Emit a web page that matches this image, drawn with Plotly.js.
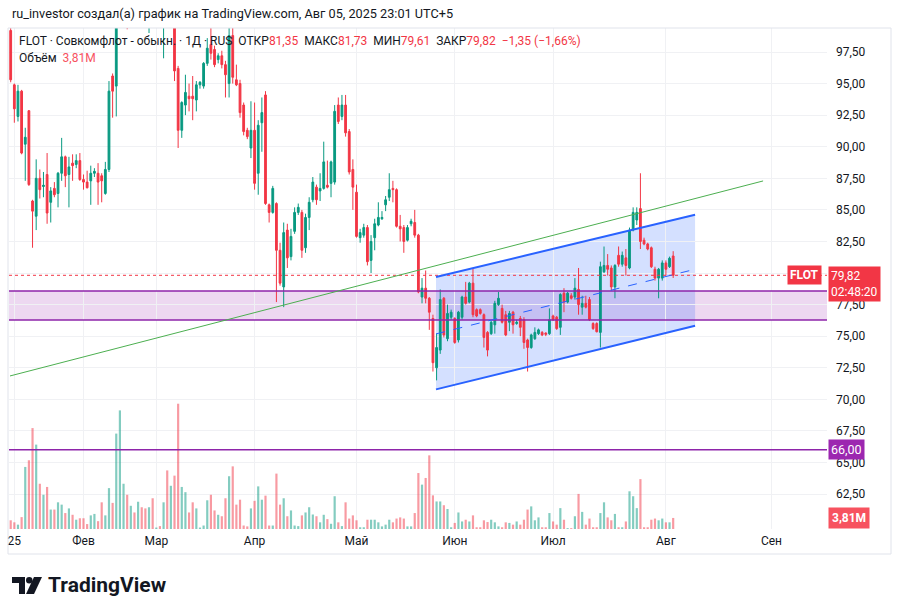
<!DOCTYPE html>
<html><head><meta charset="utf-8">
<script src="https://cdn.plot.ly/plotly-3.0.1.min.js"></script>
<style>html,body{margin:0;padding:0;background:#fff}#chart{width:902px;height:616px}</style>
</head><body><div id="chart"></div>
<script>
// ---- Data (daily bars, FLOT, Jan–Aug 2025) ----
const opens = [99.2,94.9,92.4,94.4,90.2,92.85,85.7,84.5,87.5,86.85,87.8,85.6,86.7,86.3,87.9,89.2,87.8,88.7,88.6,88.9,
87.4,87.2,87.3,87.9,87.9,87.7,86.3,88.2,95.6,94.8,101.0,103.8,104.5,100.0,102.5,101.5,103.0,102.0,100.2,101.8,
100.8,102.2,100.2,101.2,100.1,100.6,96.2,91.3,93.3,94.0,94.0,93.7,94.9,94.8,96.6,98.1,97.7,96.9,97.2,96.5,
95.0,98.8,95.3,95.0,93.3,91.3,89.9,91.3,87.9,91.9,94.1,85.4,84.8,85.5,81.8,78.9,83.4,81.3,83.3,84.8,
84.8,82.0,84.4,85.8,86.8,86.5,86.7,86.95,87.1,87.2,93.3,92.4,93.3,91.2,88.2,86.4,82.8,83.0,83.6,81.0,
82.8,83.8,84.3,85.4,86.0,86.7,86.6,83.7,83.6,82.6,83.9,84.0,83.0,78.1,78.8,78.0,76.4,72.5,73.9,78.0,
74.8,76.5,76.4,74.7,76.5,78.1,77.7,79.2,77.1,77.1,76.7,75.3,75.2,75.9,77.5,77.2,76.7,76.1,76.9,76.0,
76.4,76.3,74.7,74.1,74.8,75.2,75.3,75.25,75.2,76.6,76.5,75.7,78.4,77.7,78.2,78.1,78.7,77.3,77.6,77.9,
76.0,76.0,75.3,80.1,80.6,80.4,78.9,81.4,80.7,81.2,80.4,83.4,84.2,85.1,82.6,82.3,82.0,80.3,79.6,79.6,
80.8,80.5,81.35];
const highs = [99.6,95.0,94.9,94.5,91.5,92.9,85.8,89.0,88.2,88.0,89.5,86.8,87.2,88.0,90.7,89.3,89.2,89.4,89.4,89.5,
87.8,88.1,88.5,88.3,88.7,87.9,88.8,95.2,95.8,101.5,104.5,106.0,105.5,103.0,104.0,103.5,104.0,102.8,102.5,102.6,
102.8,103.0,101.8,101.6,101.2,101.0,96.4,93.6,95.7,95.0,95.6,95.2,95.2,96.7,98.6,99.4,98.0,97.4,97.6,96.8,
99.6,99.8,96.5,95.3,93.5,91.5,93.6,93.5,92.1,93.9,94.4,85.5,86.9,85.6,82.4,84.0,83.9,83.5,85.2,85.5,
85.0,84.7,86.0,87.6,87.0,87.9,90.4,88.9,88.9,93.3,93.9,94.1,94.1,91.4,89.0,87.0,83.5,83.9,83.8,83.0,
84.3,85.6,84.9,86.1,87.9,87.3,86.7,84.6,83.8,83.8,84.3,85.0,83.1,79.6,80.2,78.1,76.7,75.2,78.7,78.1,
77.5,77.1,76.5,77.0,78.2,79.3,79.3,80.4,77.2,77.2,76.8,75.4,76.2,77.8,78.5,77.5,77.0,77.0,77.0,76.3,
76.6,76.5,74.8,75.2,75.7,75.6,75.4,75.3,77.2,76.7,76.6,78.4,78.8,78.5,78.4,79.6,80.4,78.2,78.2,78.1,
76.1,76.1,80.9,82.1,81.5,80.6,80.7,82.1,81.7,81.9,83.6,85.2,85.2,87.9,82.8,82.4,82.1,80.5,80.4,81.0,
81.0,81.3,81.73];
const lows = [95.1,91.9,92.0,89.4,87.3,86.9,82.0,83.4,85.9,86.0,83.9,84.0,86.0,85.2,87.3,86.8,85.2,87.3,88.3,87.3,
86.6,86.7,85.4,87.6,85.4,85.6,86.2,88.0,92.3,92.4,100.2,102.5,99.3,99.8,101.0,100.8,101.5,100.2,99.0,100.3,
100.0,100.5,97.0,99.8,99.4,95.2,89.9,90.7,92.5,92.8,92.1,92.8,94.6,94.6,96.4,96.9,96.3,96.6,96.2,93.9,
93.9,95.0,94.8,92.3,90.9,90.6,89.1,86.6,86.2,89.6,85.4,84.0,84.7,77.7,79.0,77.3,80.4,81.0,83.1,84.6,
81.2,81.6,83.4,85.6,85.4,85.7,86.6,86.7,86.0,87.0,91.8,92.1,90.8,87.8,85.0,82.8,82.4,82.8,80.6,80.0,
81.8,83.7,84.2,84.9,85.7,85.6,83.6,82.5,81.6,82.5,83.7,82.8,78.4,77.6,77.6,75.5,72.2,71.5,73.6,74.9,
74.6,76.3,74.4,74.5,76.3,77.5,77.6,76.5,76.5,76.7,74.1,73.4,75.1,75.2,77.4,76.0,75.0,75.4,75.2,75.9,
75.0,74.0,72.2,74.0,74.7,75.1,75.0,75.0,75.1,76.2,75.5,75.1,76.9,77.6,77.9,77.9,76.7,76.7,77.2,76.2,
75.5,75.3,74.1,80.0,79.8,78.6,78.0,80.5,80.5,79.8,80.3,83.3,83.8,81.9,82.2,81.8,80.4,79.4,78.0,79.4,
79.8,80.4,79.61];
const closes = [95.3,93.0,94.4,89.5,90.75,87.0,84.9,87.5,86.6,86.95,84.75,86.5,86.2,87.9,89.2,87.7,88.4,88.5,88.9,87.4,
87.2,86.75,87.9,88.05,87.2,87.3,88.2,94.4,94.4,101.0,103.8,105.2,100.0,102.5,101.5,103.0,102.0,100.6,101.8,100.8,
102.2,100.9,101.2,100.1,100.9,96.0,91.3,93.5,94.3,93.8,93.8,94.9,95.1,96.6,97.8,97.4,96.5,97.2,96.5,95.7,
98.8,95.5,94.9,92.7,91.2,90.8,91.3,87.1,91.7,92.7,85.5,84.8,86.7,81.8,79.2,83.2,81.2,82.9,84.8,85.2,
81.8,84.4,85.6,87.2,85.8,86.7,88.8,86.8,88.8,92.8,92.0,93.3,91.1,88.0,86.8,82.9,83.2,83.6,80.9,82.5,
83.9,84.4,84.4,85.8,86.6,86.6,83.7,83.5,82.5,83.6,84.1,83.0,78.5,78.8,78.0,76.9,72.9,74.1,77.9,75.1,
76.8,76.9,74.5,76.9,78.1,77.6,79.2,76.7,76.6,76.8,74.9,73.9,76.1,77.6,78.0,76.1,75.1,76.8,75.9,76.1,
75.7,74.5,74.1,75.1,75.3,75.5,75.1,75.15,76.3,76.3,75.6,78.3,77.7,78.4,78.0,78.8,77.5,77.6,77.3,76.3,
75.6,75.35,80.5,80.6,80.3,78.9,80.6,80.7,81.4,80.6,83.4,84.8,84.8,82.5,82.3,81.9,80.5,79.6,80.3,80.8,
80.3,81.17,79.82];
// volume, millions of shares
const volumes = [3.0,2.3,1.5,4.1,21.4,23.7,34.8,29.1,15.6,11.8,14.5,6.7,6.7,9.2,8.4,5.5,7.1,4.9,3.2,3.7,
3.7,1.7,4.7,5.2,2.7,9.2,4.7,14.1,9.0,32.9,40.9,15.6,11.8,8.0,5.7,9.4,7.5,7.1,7.5,10.6,
0.5,1.0,9.2,20.2,14.9,18.4,43.2,14.5,12.7,5.7,9.2,7.1,0.5,1.2,9.9,11.8,6.4,4.9,4.4,10.6,
18.2,21.6,8.4,10.1,1.2,0.9,7.1,9.7,14.7,10.1,11.5,1.2,1.2,19.1,8.4,10.6,4.4,6.4,1.2,1.0,
4.7,5.7,7.5,5.0,4.4,2.3,4.9,3.4,1.8,11.3,2.3,1.0,9.2,3.6,4.7,3.0,0.6,0.6,3.2,3.2,
3.2,2.3,0.9,1.5,3.2,2.3,3.6,4.0,3.6,0.9,0.9,5.5,19.3,15.3,17.6,25.4,11.6,9.5,9.5,8.2,
6.9,0.6,2.1,5.7,2.6,3.2,2.6,4.7,0.6,0.6,3.0,2.4,3.2,2.3,0.9,0.6,2.3,2.1,1.5,2.6,
1.5,3.2,6.7,7.8,3.0,4.0,0.6,0.6,5.5,2.6,1.5,7.2,3.2,0.3,0.3,4.4,12.1,5.9,1.5,3.6,
0.6,0.6,5.5,9.2,4.0,3.0,5.2,0.6,0.6,2.6,13.0,11.3,7.2,17.2,0.6,0.6,3.2,3.6,3.0,3.6,
2.3,2.3,3.81];
const monthTickIdx  = [1, 20, 40, 67, 95, 122, 149, 180, 209];
const monthTickText = ['25','Фев','Мар','Апр','Май','Июн','Июл','Авг','Сен'];
const priceTicks = [62.5,65,67.5,70,72.5,75,77.5,80,82.5,85,87.5,90,92.5,95,97.5];
const hiddenPriceTicks = [80]; // covered by the last-price label in the original
// drawings (bar index, price)
const trendX = [-0.19, 206.7], trendY = [71.85, 87.29];
const chanX = [116.84, 188.02];
const chanUpperY = [79.69, 84.61];
const chanLowerY = [70.79, 75.82];
const chanMidY = [75.18, 80.30];
const zoneTop = 78.58, zoneBottom = 76.28;
const levelLine = 66.00;

// ---- pixel helpers for paper-positioned decoration ----
const L = 9, R = 827, T = 28, B = 529;
const PX = p => (p - L) / (R - L);
const PY = p => (B - p) / (B - T);

const n = closes.length;
const idx = closes.map((_, i) => i);
const fmt = v => v.toFixed(2).replace('.', ',');
const MINUS = '\u2212';
const RED = '#f23645', GREEN = '#089981';
const chg = closes[n-1] - closes[n-2];
const pct = chg / closes[n-2] * 100;
const sgn = chg < 0 ? MINUS : '+';
const red = s => `<span style="color:${RED}">${s}</span>`;
const sp = '\u00A0\u00A0';

const header = 'FLOT · Совкомфлот - обыкн. · 1Д · RUS' + sp +
  'ОТКР' + red(fmt(opens[n-1])) + sp + 'МАКС' + red(fmt(highs[n-1])) + sp +
  'МИН' + red(fmt(lows[n-1])) + sp + 'ЗАКР' + red(fmt(closes[n-1])) + sp +
  red(`${sgn}${fmt(Math.abs(chg))} (${sgn}${fmt(Math.abs(pct))}%)`);
const volText = fmt(volumes[n-1]) + 'M';

const volColors = idx.map(i => closes[i] >= opens[i] ? 'rgba(8,153,129,0.5)' : 'rgba(242,54,69,0.5)');

const traces = [
  {type:'bar', x: idx, y: volumes, yaxis:'y2', marker:{color: volColors, line:{width:0}},
   width: 0.6, hoverinfo:'skip', showlegend:false},
  {type:'candlestick', x: idx, open: opens, high: highs, low: lows, close: closes,
   increasing:{line:{color:GREEN, width:1}, fillcolor:GREEN},
   decreasing:{line:{color:RED, width:1}, fillcolor:RED},
   whiskerwidth:0, hoverinfo:'skip', showlegend:false}
];

const font = 'Roboto, "Liberation Sans", sans-serif';
const shapes = [
  {type:'rect', xref:'paper', yref:'y', x0:0, x1:1, y0:zoneBottom, y1:zoneTop,
   fillcolor:'rgba(156,39,176,0.18)', line:{width:0}, layer:'below'},
  {type:'path', xref:'x', yref:'y', layer:'below', line:{width:0}, fillcolor:'rgba(41,98,255,0.2)',
   path:`M ${chanX[0]} ${chanUpperY[0]} L ${chanX[1]} ${chanUpperY[1]} L ${chanX[1]} ${chanLowerY[1]} L ${chanX[0]} ${chanLowerY[0]} Z`},
  {type:'line', xref:'paper', yref:'y', x0:0, x1:1, y0:zoneTop, y1:zoneTop, line:{color:'#8e24aa', width:1.5}, layer:'above'},
  {type:'line', xref:'paper', yref:'y', x0:0, x1:1, y0:zoneBottom, y1:zoneBottom, line:{color:'#8e24aa', width:1.5}, layer:'above'},
  {type:'line', xref:'paper', yref:'y', x0:0, x1:1, y0:levelLine, y1:levelLine, line:{color:'#8e24aa', width:1.5}, layer:'above'},
  {type:'line', xref:'paper', yref:'y', x0:0, x1:1, y0:closes[n-1], y1:closes[n-1], line:{color:RED, width:1, dash:'dot'}, layer:'above'},
  {type:'line', xref:'x', yref:'y', x0:trendX[0], x1:trendX[1], y0:trendY[0], y1:trendY[1], line:{color:'#4caf50', width:1}, layer:'above'},
  {type:'line', xref:'x', yref:'y', x0:chanX[0], x1:chanX[1], y0:chanUpperY[0], y1:chanUpperY[1], line:{color:'#2962ff', width:2}, layer:'above'},
  {type:'line', xref:'x', yref:'y', x0:chanX[0], x1:chanX[1], y0:chanLowerY[0], y1:chanLowerY[1], line:{color:'#2962ff', width:2}, layer:'above'},
  {type:'line', xref:'x', yref:'y', x0:chanX[0], x1:chanX[1], y0:chanMidY[0], y1:chanMidY[1], line:{color:'#2962ff', width:1, dash:'dash'}, layer:'above'},
  {type:'rect', xref:'paper', yref:'paper', x0:PX(8), x1:PX(891), y0:PY(28), y1:PY(554), line:{color:'#e0e3eb', width:1}, layer:'above'},
  {type:'rect', xref:'paper', yref:'paper', x0:PX(12), x1:PX(25), y0:PY(577), y1:PY(583), fillcolor:'#131722', line:{width:0}},
  {type:'rect', xref:'paper', yref:'paper', x0:PX(19), x1:PX(25), y0:PY(577), y1:PY(594), fillcolor:'#131722', line:{width:0}},
  {type:'circle', xref:'paper', yref:'paper', x0:PX(26), x1:PX(32.5), y0:PY(577), y1:PY(583.5), fillcolor:'#131722', line:{width:0}},
  {type:'path', xref:'paper', yref:'paper', fillcolor:'#131722', line:{width:0},
   path:`M ${PX(34)} ${PY(577)} L ${PX(42)} ${PY(577)} L ${PX(34)} ${PY(594)} L ${PX(26)} ${PY(594)} Z`}
];

const annotations = [
  {xref:'paper', yref:'paper', x:PX(10), y:PY(14), xanchor:'left', yanchor:'middle', showarrow:false,
   text:'ru_investor создал(а) график на TradingView.com, Авг 05, 2025 23:01 UTC+5',
   font:{family:font, size:12.7, color:'#131722'}},
  {xref:'paper', yref:'paper', x:PX(17), y:PY(41), xanchor:'left', yanchor:'middle', showarrow:false,
   text:header, font:{family:font, size:12, color:'#131722'}},
  {xref:'paper', yref:'paper', x:PX(17), y:PY(58), xanchor:'left', yanchor:'middle', showarrow:false,
   text:'Объём' + sp + `<span style="color:#f7525f">${volText}</span>`, font:{family:font, size:12, color:'#131722'}},
  {xref:'paper', yref:'y', x:PX(822), y:closes[n-1], xanchor:'right', yanchor:'middle', showarrow:false,
   text:'<b>FLOT</b>', bgcolor:RED, borderpad:2, font:{family:font, size:12, color:'#ffffff'}},
  {xref:'paper', yref:'y', x:PX(828), y:closes[n-1], xanchor:'left', yanchor:'top', yshift:9, showarrow:false,
   align:'left', text:fmt(closes[n-1]) + '<br>02:48:20', bgcolor:RED, borderpad:2,
   font:{family:font, size:12, color:'#ffffff'}},
  {xref:'paper', yref:'y', x:PX(828), y:levelLine, xanchor:'left', yanchor:'middle', showarrow:false,
   text:fmt(levelLine), bgcolor:'#9c27b0', borderpad:2, font:{family:font, size:12.5, color:'#ffffff'}},
  {xref:'paper', yref:'y2', x:PX(828), y:volumes[n-1], xanchor:'left', yanchor:'middle', showarrow:false,
   text:'<b>' + volText + '</b>', bgcolor:'#f7525f', borderpad:3, font:{family:font, size:12, color:'#ffffff'}},
  {xref:'paper', yref:'paper', x:PX(46), y:PY(585), xanchor:'left', yanchor:'middle', showarrow:false,
   text:'<b>TradingView</b>', font:{family:font, size:21, color:'#131722'}}
];

const layout = {
  width: 902, height: 616,
  margin: {l: L, r: 902 - R, t: T, b: 616 - B, pad: 0},
  paper_bgcolor: '#ffffff', plot_bgcolor: '#ffffff',
  separators: ', ',
  showlegend: false,
  dragmode: false,
  xaxis: {range: [(L - 10.7)/3.64, (R - 10.7)/3.64], tickvals: monthTickIdx, ticktext: monthTickText,
          showgrid: true, gridcolor: '#f0f1f4', zeroline: false, showline: false, ticks: '',
          ticklabelstandoff: 3, rangeslider: {visible: false}, fixedrange: true,
          tickfont: {family: font, size: 12, color: '#131722'}},
  yaxis: {range: [97.5 - (B - 52)/12.63, 97.5 + (52 - T)/12.63], side: 'right', tickvals: priceTicks,
          ticktext: priceTicks.map(v => hiddenPriceTicks.includes(v) ? '' : fmt(v)),
          showgrid: true, gridcolor: '#f0f1f4', zeroline: false, showline: false,
          ticks: '', ticklabelstandoff: 8, fixedrange: true,
          tickfont: {family: font, size: 12, color: '#131722'}},
  yaxis2: {overlaying: 'y', range: [0, (B - T)/2.9], visible: false, showgrid: false, fixedrange: true},
  shapes: shapes,
  annotations: annotations
};

Plotly.newPlot('chart', traces, layout, {displayModeBar: false, staticPlot: true});
</script>
</body></html>
